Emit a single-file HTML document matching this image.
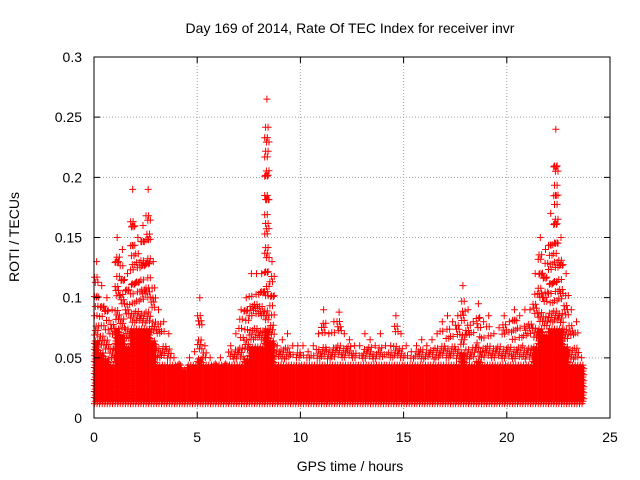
<!DOCTYPE html>
<html><head><meta charset="utf-8">
<style>
html,body{margin:0;padding:0;background:#fff;}
svg{display:block;font-family:"Liberation Sans",sans-serif;}
</style></head>
<body>
<svg id="chart" width="640" height="480">
  <text x="350" y="33" text-anchor="middle" font-size="14">Day 169 of 2014, Rate Of TEC Index for receiver invr</text>
  <g id="grid"></g>
  <g id="marks"></g>
  <rect x="94" y="57" width="516" height="361" fill="none" stroke="#000" stroke-width="1"/>
  <g id="axes"></g>
  <text x="350" y="471" text-anchor="middle" font-size="14">GPS time / hours</text>
  <text transform="translate(19,237) rotate(-90)" text-anchor="middle" font-size="14">ROTI / TECUs</text>
</svg>
<script>
const xTicks = [0,5,10,15,20,25];
const yTicks = [0,0.05,0.1,0.15,0.2,0.25,0.3];
const yTickLabels = ["0","0.05","0.1","0.15","0.2","0.25","0.3"];
const binStart = 0;
const binWidth = 0.25;
const maxRoti = [
0.13,0.11,0.10,0.09, 0.15,0.14,0.12,0.19,
0.15,0.16,0.19,0.13, 0.09,0.08,0.07,0.05,
0.045,0.04,0.05,0.055, 0.10,0.06,0.05,0.045,
0.05,0.045,0.06,0.07, 0.09,0.10,0.12,0.12,
0.12,0.265,0.13,0.06, 0.065,0.07,0.06,0.06,
0.06,0.055,0.06,0.07, 0.09,0.07,0.08,0.088,
0.07,0.065,0.06,0.06, 0.07,0.065,0.06,0.07,
0.06,0.06,0.085,0.07, 0.06,0.055,0.06,0.065,
0.06,0.065,0.07,0.08, 0.085,0.08,0.085,0.11,
0.09,0.08,0.095,0.08, 0.085,0.07,0.075,0.085,
0.08,0.09,0.085,0.09, 0.09,0.12,0.15,0.14,
0.17,0.24,0.15,0.12, 0.09,0.08,0.05];
const minRoti = 0.012;

const X0=94,X1=610,Y0=418,Y1=57;
const xs = v => X0 + (v-0)/(25-0)*(X1-X0);
const ys = v => Y0 - (v-0)/(0.3-0)*(Y0-Y1);
const NS="http://www.w3.org/2000/svg";
const grid=document.getElementById('grid'), axes=document.getElementById('axes'), marks=document.getElementById('marks');

xTicks.forEach((t,i)=>{
  const x=xs(t);
  if(i>0&&i<xTicks.length-1){
    const g=document.createElementNS(NS,'line');
    g.setAttribute('x1',x);g.setAttribute('x2',x);g.setAttribute('y1',Y0);g.setAttribute('y2',Y1);
    g.setAttribute('stroke','#a0a0a0');g.setAttribute('stroke-dasharray','1,2');
    
    
    grid.appendChild(g);
  }
  const tk=document.createElementNS(NS,'path');
  tk.setAttribute('d',`M${x},${Y0}v-6M${x},${Y1}v6`);tk.setAttribute('stroke','#000');
  
  
  axes.appendChild(tk);
  const lb=document.createElementNS(NS,'text');
  lb.setAttribute('x',x);lb.setAttribute('y',442);lb.setAttribute('text-anchor','middle');lb.setAttribute('font-size','14');
  lb.textContent=String(t);
  
  
  axes.appendChild(lb);
});
yTicks.forEach((t,i)=>{
  const y=ys(t);
  if(i>0&&i<yTicks.length-1){
    const g=document.createElementNS(NS,'line');
    g.setAttribute('x1',X0);g.setAttribute('x2',X1);g.setAttribute('y1',y);g.setAttribute('y2',y);
    g.setAttribute('stroke','#a0a0a0');g.setAttribute('stroke-dasharray','1,2');
    
    
    grid.appendChild(g);
  }
  const tk=document.createElementNS(NS,'path');
  tk.setAttribute('d',`M${X0},${y}h6M${X1},${y}h-6`);tk.setAttribute('stroke','#000');
  
  
  axes.appendChild(tk);
  const lb=document.createElementNS(NS,'text');
  lb.setAttribute('x',82);lb.setAttribute('y',y+5);lb.setAttribute('text-anchor','end');lb.setAttribute('font-size','14');
  lb.textContent=yTickLabels[i];
  
  
  axes.appendChild(lb);
});

const cross=(x,y)=>`M${(x-3.5).toFixed(1)},${y.toFixed(1)}h7M${x.toFixed(1)},${(y-3.5).toFixed(1)}v7`;
maxRoti.forEach((m,i)=>{
  let d='';
  const nx=6;
  const denseTop=Math.min(m, Math.min(0.075, Math.max(0.045, m*0.5)));
  for(let k=0;k<nx;k++){
    const t=binStart+i*binWidth+(k+0.5)*binWidth/nx;
    const x=xs(t);
    for(let v=minRoti+(k%3)*0.002; v<=denseTop; v+=0.005) d+=cross(x,ys(v));
    const off=((k*37+i*53)%110)/10000;
    for(let v=denseTop+0.004+off; v<m*0.92; v+=0.016+((k+i)%3)*0.004) d+=cross(x,ys(v));
  }
  d+=cross(xs(binStart+(i+0.5)*binWidth), ys(m));
  const p=document.createElementNS(NS,'path');
  p.setAttribute('d',d);p.setAttribute('stroke','#ff0000');p.setAttribute('stroke-width','1');p.setAttribute('fill','none');
  
  
  marks.appendChild(p);
});
</script>
</body></html>
